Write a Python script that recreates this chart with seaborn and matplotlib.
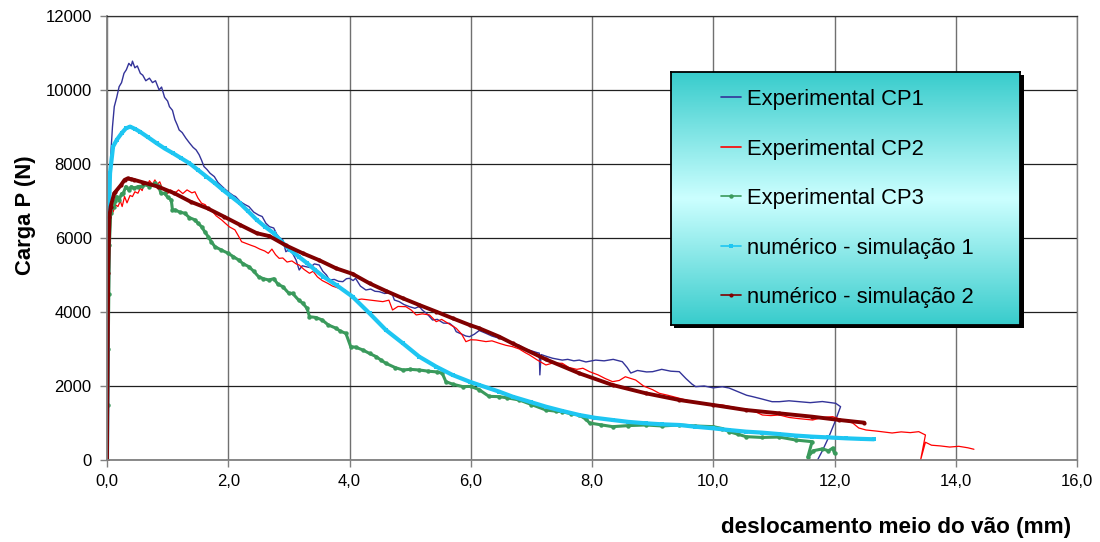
import numpy as np
import pandas as pd
import matplotlib
matplotlib.use("Agg")
import matplotlib.pyplot as plt
import seaborn as sns
from matplotlib.colors import LinearSegmentedColormap
from matplotlib.patches import Rectangle
from matplotlib.ticker import FuncFormatter, MultipleLocator

# ---------------- data ----------------
cp1_x = [0.00, 0.02, 0.04, 0.06, 0.09, 0.12, 0.16, 0.20, 0.24, 0.28, 0.32, 0.36, 0.40, 0.42, 0.46, 0.50,
         0.55, 0.59, 0.64, 0.70, 0.75, 0.80, 0.86, 0.90, 0.95, 1.00, 1.03, 1.08, 1.12, 1.16, 1.19, 1.24,
         1.30, 1.36, 1.42, 1.47, 1.52, 1.56, 1.60, 1.65, 1.70, 1.77, 1.83, 1.90, 1.96, 2.02, 2.08, 2.12,
         2.20, 2.28, 2.34, 2.42, 2.50, 2.56, 2.62, 2.68, 2.75, 2.80, 2.85, 2.90, 2.95, 3.00, 3.06, 3.12,
         3.17, 3.22, 3.28, 3.35, 3.42, 3.50, 3.56, 3.62, 3.67, 3.75, 3.82, 3.89, 3.95, 4.00, 4.06, 4.10,
         4.18, 4.27, 4.35, 4.42, 4.49, 4.58, 4.65, 4.71, 4.74, 4.82, 4.90, 4.99, 5.08, 5.15, 5.20, 5.28,
         5.37, 5.45, 5.55, 5.65, 5.72, 5.76, 5.85, 5.92, 5.98, 6.06, 6.14, 6.25, 6.35, 6.45, 6.55, 6.69,
         6.80, 6.90, 7.00, 7.10, 7.13, 7.14, 7.16, 7.25, 7.35, 7.51, 7.60, 7.70, 7.79, 7.90, 8.06, 8.20,
         8.35, 8.50, 8.58, 8.64, 8.75, 8.90, 9.00, 9.15, 9.30, 9.44, 9.55, 9.65, 9.71, 9.85, 10.00, 10.15,
         10.26, 10.40, 10.55, 10.65, 10.80, 10.97, 11.09, 11.25, 11.42, 11.60, 11.80, 12.02, 12.10, 12.00,
         11.90, 11.80, 11.72]
cp1_y = [0, 3000, 6000, 8200, 9000, 9550, 9800, 10090, 10200, 10450, 10550, 10720, 10650, 10780, 10600, 10650,
         10450, 10400, 10250, 10320, 10200, 10250, 10000, 10080, 9800, 9700, 9550, 9450, 9200, 9050, 8920, 8850,
         8700, 8570, 8450, 8380, 8250, 8100, 7930, 7850, 7750, 7660, 7500, 7390, 7300, 7220, 7150, 7120,
         6980, 6900, 6850, 6700, 6620, 6580, 6400, 6306, 6270, 6100, 6000, 5950, 5630, 5680, 5590, 5400,
         5135, 5250, 5225, 5200, 5300, 5270, 5100, 5000, 4865, 4880, 4830, 4820, 4900, 4910, 4850, 4910,
         4700, 4595, 4620, 4560, 4550, 4500, 4520, 4460, 4324, 4280, 4200, 4144, 4100, 4150, 4054, 3950,
         3784, 3800, 3700, 3694, 3600, 3468, 3400, 3350, 3333, 3400, 3500, 3424, 3350, 3300, 3250, 3154,
         3100, 3000, 2950, 2900, 2890, 2300, 2850, 2800, 2750, 2700, 2720, 2680, 2700, 2650, 2700, 2680,
         2720, 2657, 2500, 2350, 2420, 2380, 2387, 2450, 2400, 2387, 2200, 2050, 1982, 2000, 1950, 1980,
         1946, 1850, 1750, 1712, 1650, 1576, 1576, 1600, 1576, 1550, 1580, 1532, 1441, 1000,
         600, 250, 0]

cp2_x = [0.00, 0.02, 0.04, 0.07, 0.10, 0.14, 0.18, 0.22, 0.25, 0.29, 0.33, 0.38, 0.42, 0.46, 0.51, 0.55,
         0.58, 0.62, 0.66, 0.70, 0.75, 0.79, 0.83, 0.87, 0.91, 0.95, 1.00, 1.05, 1.12, 1.18, 1.25, 1.32,
         1.40, 1.45, 1.50, 1.56, 1.62, 1.67, 1.72, 1.80, 1.89, 1.95, 2.02, 2.11, 2.17, 2.22, 2.30, 2.38,
         2.44, 2.52, 2.60, 2.66, 2.72, 2.78, 2.84, 2.90, 2.97, 3.05, 3.12, 3.17, 3.25, 3.34, 3.40, 3.47,
         3.55, 3.64, 3.72, 3.83, 3.92, 4.00, 4.10, 4.20, 4.33, 4.45, 4.55, 4.65, 4.71, 4.80, 4.93, 5.02,
         5.10, 5.20, 5.32, 5.43, 5.52, 5.62, 5.76, 5.85, 5.92, 6.00, 6.09, 6.25, 6.35, 6.47, 6.58, 6.69,
         6.80, 6.90, 6.97, 7.10, 7.24, 7.35, 7.51, 7.62, 7.75, 7.85, 7.96, 8.10, 8.22, 8.34, 8.45, 8.55,
         8.72, 8.85, 9.00, 9.11, 9.25, 9.44, 9.60, 9.77, 9.95, 10.15, 10.35, 10.54, 10.70, 10.81, 10.95, 11.09,
         11.25, 11.40, 11.64, 11.80, 11.97, 12.10, 12.20, 12.30, 12.40, 12.52, 12.70, 12.85, 12.95, 13.10, 13.25, 13.39,
         13.50, 13.42, 13.50, 13.60, 13.75, 13.90, 14.05, 14.20, 14.30]
cp2_y = [0, 3000, 5500, 6940, 6700, 6900, 6850, 7000, 6850, 7120, 6950, 7150, 7120, 7250, 7210, 7350,
         7280, 7520, 7400, 7550, 7450, 7570, 7450, 7520, 7350, 7300, 7200, 7300, 7210, 7300, 7200, 7300,
         7220, 7250, 7080, 6940, 6900, 6780, 6757, 6600, 6490, 6400, 6300, 6220, 6050, 5900, 5850, 5800,
         5766, 5700, 5650, 5586, 5700, 5550, 5450, 5460, 5350, 5380, 5300, 5270, 5150, 5046, 5100, 4950,
         4850, 4775, 4700, 4640, 4600, 4460, 4324, 4350, 4324, 4300, 4280, 4320, 4054, 4150, 4144, 4050,
         3920, 3950, 3920, 3739, 3800, 3700, 3560, 3400, 3198, 3250, 3244, 3200, 3220, 3154, 3100, 3063,
         3000, 2900, 2838, 2700, 2568, 2620, 2613, 2500, 2450, 2480, 2387, 2300, 2200, 2117, 2150, 2250,
         2162, 2000, 1900, 1802, 1750, 1667, 1600, 1532, 1500, 1487, 1420, 1351, 1300, 1216, 1200, 1216,
         1150, 1120, 1081, 1150, 1171, 1100, 1050, 1000, 865, 811, 780, 750, 730, 760, 740, 766,
         676, 0, 480, 400, 380, 350, 370, 330, 290]

cp3_x = [0.00, 0.01, 0.02, 0.03, 0.04, 0.06, 0.09, 0.11, 0.14, 0.16, 0.20, 0.24, 0.27, 0.31, 0.36, 0.40,
         0.45, 0.51, 0.58, 0.65, 0.70, 0.79, 0.85, 0.89, 0.95, 1.00, 1.06, 1.08, 1.12, 1.20, 1.28, 1.36,
         1.45, 1.50, 1.56, 1.62, 1.67, 1.72, 1.78, 1.88, 2.00, 2.08, 2.17, 2.25, 2.34, 2.42, 2.50, 2.58,
         2.67, 2.75, 2.82, 2.90, 3.00, 3.06, 3.16, 3.23, 3.30, 3.34, 3.45, 3.55, 3.65, 3.78, 3.85, 3.94,
         4.02, 4.10, 4.22, 4.33, 4.44, 4.52, 4.60, 4.75, 4.88, 5.00, 5.15, 5.30, 5.45, 5.53, 5.59, 5.70,
         5.87, 6.00, 6.14, 6.30, 6.47, 6.60, 6.80, 7.00, 7.24, 7.40, 7.51, 7.65, 7.79, 7.90, 7.96, 8.15,
         8.34, 8.60, 8.89, 9.15, 9.44, 9.70, 10.00, 10.15, 10.26, 10.40, 10.54, 10.80, 11.09, 11.36, 11.63, 11.56,
         11.65, 11.80, 11.90, 11.97, 12.00]
cp3_y = [0, 1500, 3000, 4500, 5800, 6670, 6830, 6850, 7000, 7120, 7030, 7200, 7210, 7390, 7300, 7390,
         7350, 7390, 7400, 7450, 7390, 7480, 7400, 7210, 7210, 7100, 7030, 6757, 6760, 6700, 6670, 6550,
         6490, 6400, 6306, 6150, 6036, 5900, 5766, 5680, 5586, 5500, 5406, 5300, 5225, 5100, 4955, 4900,
         4865, 4900, 4750, 4685, 4504, 4505, 4324, 4234, 4100, 3874, 3850, 3784, 3650, 3560, 3480, 3424,
         3063, 3050, 2973, 2880, 2793, 2700, 2613, 2500, 2433, 2450, 2433, 2400, 2380, 2343, 2117, 2050,
         1982, 1990, 1900, 1720, 1712, 1680, 1622, 1500, 1351, 1320, 1306, 1250, 1216, 1100, 1000, 950,
         901, 930, 946, 920, 946, 920, 901, 850, 766, 700, 631, 610, 620, 540, 495, 80,
         250, 300, 250, 320, 180]

sim1_x = [0.00, 0.01, 0.02, 0.05, 0.10, 0.16, 0.24, 0.31, 0.38, 0.46, 0.54, 0.68, 0.82, 0.95, 1.09, 1.22,
          1.36, 1.50, 1.64, 1.78, 1.91, 2.05, 2.19, 2.33, 2.47, 2.61, 2.75, 2.88, 3.02, 3.16, 3.30, 3.43,
          3.57, 3.79, 4.05, 4.33, 4.60, 4.88, 5.15, 5.43, 5.70, 5.98, 6.14, 6.47, 6.69, 7.00, 7.24, 7.50,
          7.79, 8.05, 8.34, 8.60, 8.89, 9.15, 9.44, 9.70, 10.00, 10.26, 10.54, 10.80, 11.09, 11.36, 11.63, 11.90,
          12.19, 12.45, 12.65]
sim1_y = [0, 3000, 5946, 7750, 8470, 8650, 8830, 8960, 9010, 8950, 8875, 8720, 8560, 8420, 8290, 8160,
          8020, 7840, 7660, 7480, 7300, 7120, 6940, 6720, 6490, 6300, 6130, 5900, 5677, 5500, 5320, 5140,
          4955, 4720, 4414, 3964, 3514, 3154, 2793, 2523, 2298, 2117, 2027, 1847, 1712, 1560, 1441, 1330,
          1216, 1140, 1081, 1030, 991, 965, 946, 900, 856, 810, 766, 740, 700, 660, 631, 610,
          586, 570, 560]

sim2_x = [0.00, 0.02, 0.04, 0.06, 0.12, 0.14, 0.23, 0.29, 0.34, 0.40, 0.45, 0.60, 0.84, 1.11, 1.38, 1.66,
          1.93, 2.20, 2.47, 2.68, 2.95, 3.23, 3.50, 3.78, 4.05, 4.33, 4.60, 4.88, 5.15, 5.43, 5.70, 5.98,
          6.14, 6.47, 6.69, 7.24, 7.79, 8.34, 8.89, 9.44, 10.00, 10.54, 11.09, 11.63, 12.08, 12.49]
sim2_y = [0, 5050, 6577, 6850, 7210, 7250, 7430, 7570, 7610, 7590, 7570, 7500, 7390, 7210, 6980, 6800,
          6577, 6350, 6130, 6050, 5800, 5586, 5400, 5180, 5030, 4775, 4570, 4370, 4190, 4010, 3830, 3650,
          3560, 3333, 3150, 2720, 2343, 2027, 1802, 1622, 1487, 1351, 1261, 1171, 1081, 1009]

labels = ["Experimental CP1", "Experimental CP2", "Experimental CP3",
          "numérico - simulação 1", "numérico - simulação 2"]
x_ticks = [0, 2, 4, 6, 8, 10, 12, 14, 16]
y_ticks = [0, 2000, 4000, 6000, 8000, 10000, 12000]

# ---------------- style ----------------
sns.set_theme(style="white")
plt.rcParams['font.family'] = ['Liberation Sans', 'DejaVu Sans']

W, H = 1100, 542
fig = plt.figure(figsize=(W / 100, H / 100), dpi=100)
fig.patch.set_facecolor("white")
L, R, T, B = 107, 1077, 16, 460
ax = fig.add_axes([L / W, 1 - B / H, (R - L) / W, (B - T) / H])
ax.set_zorder(0)

series = [
    (cp1_x, cp1_y, labels[0], dict(color="#333399", lw=1.0)),
    (cp2_x, cp2_y, labels[1], dict(color="#ff0000", lw=0.9)),
    (cp3_x, cp3_y, labels[2], dict(color="#3a9a5c", lw=2.2, marker="o", ms=3.2, mew=0)),
    (sim1_x, sim1_y, labels[3], dict(color="#1ec6f2", lw=3.0, marker="s", ms=2.5, mew=0)),
    (sim2_x, sim2_y, labels[4], dict(color="#800000", lw=2.8, marker="o", ms=3.0, mew=0)),
]
for xs, ys, lab, kw in series:
    df = pd.DataFrame({"x": xs, "y": ys})
    sns.lineplot(data=df, x="x", y="y", ax=ax, sort=False, estimator=None,
                 errorbar=None, label=lab, **kw)

ax.set_xlim(0, 16)
ax.set_ylim(0, 12000)
ax.set_xticks(x_ticks)
ax.set_yticks(y_ticks)
ax.xaxis.set_major_formatter(FuncFormatter(lambda v, p: f"{v:.1f}".replace(".", ",")))
ax.yaxis.set_major_formatter(FuncFormatter(lambda v, p: f"{int(round(v))}"))
ax.set_axisbelow(True)
ax.grid(axis="y", color="#202020", lw=0.9)
ax.grid(axis="x", color="#707070", lw=1.0)
for s in ["left", "bottom"]:
    ax.spines[s].set_color("#808080")
    ax.spines[s].set_linewidth(1.3)
ax.spines["top"].set_color("#303030")
ax.spines["top"].set_linewidth(0.9)
ax.spines["right"].set_color("#808080")
ax.spines["right"].set_linewidth(1.0)
ax.tick_params(axis="both", which="major", direction="out", length=5, width=1,
               color="#808080", labelsize=12, labelcolor="black", bottom=True, left=True)
ax.tick_params(axis="x", pad=5)
ax.tick_params(axis="y", pad=6)

ax.set_xlabel("deslocamento meio do vão (mm)", fontsize=16.2, fontweight="bold", color="black")
ax.xaxis.set_label_coords((896 - L) / (R - L), (B - 527) / (B - T))
ax.xaxis.label.set_va("center")
ax.set_ylabel("Carga P (N)", fontsize=15.8, fontweight="bold", color="black")
ax.yaxis.set_label_coords((25 - L) / (R - L), (B - 215) / (B - T))
ax.yaxis.label.set_va("center")

handles, labs = ax.get_legend_handles_labels()
if ax.get_legend() is not None:
    ax.get_legend().remove()

# ---------------- legend box with gradient + shadow ----------------
lx0, ly0, lx1, ly1 = 671, 72, 1020, 325
shadow = Rectangle(((lx0 + 3) / W, 1 - (ly1 + 3) / H), (lx1 - lx0 + 1) / W, (ly1 - ly0) / H,
                   transform=fig.transFigure, facecolor="black", edgecolor="none", zorder=1)
fig.patches.append(shadow)

lax = fig.add_axes([lx0 / W, 1 - ly1 / H, (lx1 - lx0) / W, (ly1 - ly0) / H])
lax.set_zorder(2)
cmap = LinearSegmentedColormap.from_list("teal", ["#38cccc", "#ccffff", "#38cccc"])
grad = np.linspace(0, 1, 256).reshape(-1, 1)
lax.imshow(grad, aspect="auto", cmap=cmap, extent=[0, 1, 0, 1], origin="lower")
lax.set_xticks([])
lax.set_yticks([])
lax.grid(False)
for s in lax.spines.values():
    s.set_color("black")
    s.set_linewidth(1.3)
leg = lax.legend(handles, labs, loc="upper left", bbox_to_anchor=(50 / (lx1 - lx0), 1 - 17 / (ly1 - ly0)),
                 frameon=False, fontsize=15.8, handlelength=0.92, handletextpad=0.28,
                 labelspacing=1.3, borderpad=0, borderaxespad=0)
for t in leg.get_texts():
    t.set_color("black")
for h in leg.get_lines():
    h.set_linewidth(1.2)

fig.savefig("out.png", dpi=100, facecolor="white")
